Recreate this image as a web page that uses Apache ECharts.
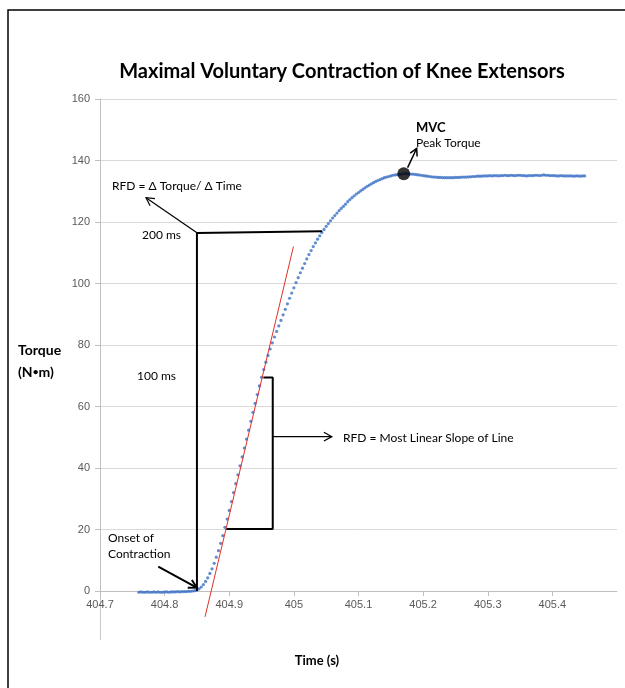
<!DOCTYPE html>
<html><head><meta charset="utf-8">
<script src="https://cdn.jsdelivr.net/npm/echarts@6/dist/echarts.min.js"></script>
<style>html,body{margin:0;padding:0;background:#fff}#c{width:625px;height:688px}</style>
</head><body><div id="c"></div>
<script>
// ---- data ----
const startTime = 404.76;      // s, first sample
const sampleRate = 300;        // samples per second
const torque = [
 -0.4,-0.3,-0.4,-0.4,-0.3,-0.4,-0.4,-0.3,-0.4,-0.3,
 -0.4,-0.4,-0.3,-0.3,-0.4,-0.3,-0.3,-0.3,-0.2,-0.3,
 -0.2,-0.2,-0.2,-0.1,-0.1,0.0,0.1,0.3,0.7,1.3,
 2.1,3.1,4.3,5.7,7.2,9.0,11.0,13.1,15.5,18.0,
 20.7,23.4,26.2,29.1,32.0,34.9,37.8,40.7,43.6,46.5,
 49.4,52.3,55.2,58.1,61.0,63.9,66.7,69.5,72.0,74.4,
 76.6,78.7,80.7,82.6,84.4,86.2,88.0,89.8,91.6,93.4,
 95.2,96.9,98.6,100.3,101.9,103.5,105.0,106.5,108.0,109.4,
 110.7,112.0,113.2,114.4,115.5,116.6,117.6,118.6,119.5,120.4,
 121.3,122.1,122.9,123.7,124.4,125.1,125.8,126.6,127.3,127.9,
 128.5,129.1,129.6,130.1,130.6,131.1,131.6,132.0,132.4,132.8,
 133.2,133.5,133.8,134.1,134.4,134.6,134.8,135.0,135.2,135.3,
 135.4,135.5,135.6,135.7,135.7,135.7,135.6,135.6,135.5,135.4,
 135.3,135.2,135.1,135.0,134.9,134.8,134.7,134.6,134.6,134.5,
 134.5,134.4,134.4,134.4,134.4,134.4,134.4,134.5,134.5,134.5,
 134.6,134.6,134.6,134.7,134.7,134.8,134.8,134.9,134.9,134.9,
 135.0,135.0,135.0,135.1,135.0,135.1,135.1,135.0,135.1,135.1,
 135.2,135.1,135.1,135.2,135.1,135.1,135.2,135.2,135.1,135.1,
 135.0,135.1,135.1,135.1,135.2,135.2,135.1,135.2,135.3,135.2,
 135.2,135.1,135.1,135.1,135.0,135.0,135.1,135.0,135.0,135.0,
 135.0,135.0,134.9,135.0,135.0,134.9,135.0,135.0
];
const xTickLabels = ['404.7','404.8','404.9','405','405.1','405.2','405.3','405.4'];
const yTickLabels = ['0','20','40','60','80','100','120','140','160'];

// annotation geometry (data coordinates)
const window200 = [[404.850, 0], [404.850, 116.4], [405.0435, 117.0]];
const linearBracket = [[404.895, 20.2], [404.9673, 20.2], [404.9673, 69.4], [404.9528, 69.4]];
const slopeLine = [[404.8625, -8.4], [404.9993, 112]];

// ---- build ----
const points = torque.map((v, i) => [startTime + i / sampleRate, v]);
let peakIdx = 0;
torque.forEach((v, i) => { if (v > torque[peakIdx]) peakIdx = i; });
const peak = points[peakIdx];

const arrows = [
  // x1, y1, x2, y2, lineWidth, headLen
  [404.850, 116.5, 404.7712, 127.9, 1.2, 9],
  [404.9673, 50.2, 405.0587, 50.2, 1.2, 9],
  [404.7902, 7.9, 404.8497, 1.1, 2, 9],
  [peak[0] + 0.006, peak[1] + 2.0, peak[0] + 0.020, peak[1] + 8.2, 1.5, 8]
];

const calibri = 'Lato, "Open Sans", sans-serif';
const chart = echarts.init(document.getElementById('c'), null, {renderer: 'canvas'});

function arrowRender(params, api) {
  const p1 = api.coord([api.value(0), api.value(1)]);
  const p2 = api.coord([api.value(2), api.value(3)]);
  const w = api.value(4), head = api.value(5);
  const ang = Math.atan2(p2[1] - p1[1], p2[0] - p1[0]);
  const a1 = ang + Math.PI - 0.5, a2 = ang + Math.PI + 0.5;
  const h1 = [p2[0] + head * Math.cos(a1), p2[1] + head * Math.sin(a1)];
  const h2 = [p2[0] + head * Math.cos(a2), p2[1] + head * Math.sin(a2)];
  return {type: 'group', children: [
    {type: 'line', shape: {x1: p1[0], y1: p1[1], x2: p2[0], y2: p2[1]}, style: {stroke: '#000', lineWidth: w}},
    {type: 'polyline', shape: {points: [h1, p2, h2]}, style: {stroke: '#000', lineWidth: w, fill: null}}
  ]};
}

function txt(text, x, y, opts) {
  return {type: 'text', x: x, y: y, silent: true, style: Object.assign({
    text: text, fill: '#000', font: '12px ' + calibri, textVerticalAlign: 'middle'
  }, opts || {})};
}

chart.setOption({
  animation: false,
  backgroundColor: '#fff',
  grid: {left: 100, right: 8, top: 99, bottom: 97, containLabel: false},
  xAxis: {
    type: 'value', min: 404.7, max: 405.5, interval: 0.1,
    axisLine: {show: true, onZero: false, lineStyle: {color: '#bfbfbf', width: 1}},
    axisTick: {show: true, length: 5, lineStyle: {color: '#bfbfbf'}},
    splitLine: {show: false},
    axisLabel: {
      color: '#595959', fontFamily: '"Liberation Sans", Arial, sans-serif', fontSize: 11, margin: 8,
      showMaxLabel: false,
      formatter: v => { const i = Math.round((v - 404.7) * 10); return xTickLabels[i] || ''; }
    }
  },
  yAxis: {
    type: 'value', min: 0, max: 160, interval: 20,
    axisLine: {show: true, lineStyle: {color: '#bfbfbf', width: 1}},
    axisTick: {show: true, length: 5, lineStyle: {color: '#bfbfbf'}},
    splitLine: {show: true, lineStyle: {color: '#d9d9d9', width: 1}},
    axisLabel: {
      color: '#595959', fontFamily: '"Liberation Sans", Arial, sans-serif', fontSize: 11, margin: 10,
      formatter: v => yTickLabels[Math.round(v / 20)]
    }
  },
  series: [
    {type: 'scatter', data: points, symbol: 'circle', symbolSize: 3.2, clip: false,
     itemStyle: {color: '#3a6fc4'}, silent: true, z: 3},
    {type: 'line', data: window200, symbol: 'none', clip: false, silent: true,
     lineStyle: {color: '#000', width: 2}, z: 4},
    {type: 'line', data: linearBracket, symbol: 'none', clip: false, silent: true,
     lineStyle: {color: '#000', width: 2}, z: 4},
    {type: 'line', data: slopeLine, symbol: 'none', clip: false, silent: true,
     lineStyle: {color: '#e0312b', width: 1}, z: 5},
    {type: 'scatter', data: [peak], symbol: 'circle', symbolSize: 13, clip: false,
     itemStyle: {color: '#000'}, silent: true, z: 6},
    {type: 'custom', data: arrows, renderItem: arrowRender, clip: false, silent: true, z: 7}
  ],
  graphic: [
    {type: 'rect', shape: {x: 8, y: 10, width: 700, height: 700}, style: {stroke: '#000', lineWidth: 1.5, fill: null}, z: -1, silent: true},
    {type: 'line', shape: {x1: 100.5, y1: 591, x2: 100.5, y2: 640}, style: {stroke: '#c8c8c8', lineWidth: 1}, silent: true},
    txt('Maximal Voluntary Contraction of Knee Extensors', 342, 72, {font: 'bold 20px ' + calibri, textAlign: 'center'}),
    txt('Torque', 18, 350, {font: 'bold 14px ' + calibri}),
    txt('(N{b|\u2022}m)', 18, 372, {font: 'bold 14px ' + calibri, rich: {b: {font: 'bold 10px ' + calibri, verticalAlign: 'middle'}}}),
    txt('Time (s)', 317, 661, {font: 'bold 13px ' + calibri, textAlign: 'center'}),
    txt('RFD = \u0394 Torque/ \u0394 Time', 112, 186),
    txt('200 ms', 142, 235),
    txt('100 ms', 137, 376),
    txt('Onset of', 108, 538),
    txt('Contraction', 108, 554),
    txt('RFD = Most Linear Slope of Line', 343, 438),
    txt('MVC', 416, 128, {font: 'bold 13px ' + calibri}),
    txt('Peak Torque', 416, 143)
  ]
});
</script></body></html>
